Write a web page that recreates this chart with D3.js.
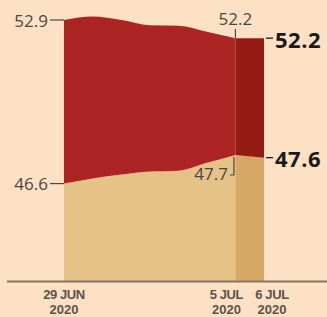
<!DOCTYPE html>
<html>
<head>
<meta charset="utf-8">
<script src="https://cdn.jsdelivr.net/npm/d3@7"></script>
<style>
  html, body { margin: 0; padding: 0; background: #fde1c4; }
  svg { display: block; }
</style>
</head>
<body>
<div id="chart"></div>
<script>
// ---- data ----
const dates = ["2020-06-29", "2020-06-30", "2020-07-01", "2020-07-02", "2020-07-03", "2020-07-04", "2020-07-05", "2020-07-06"];
const upperValues = [52.9, 53.03, 52.9, 52.7, 52.68, 52.45, 52.2, 52.2];
const lowerValues = [46.6, 46.8, 46.95, 47.07, 47.1, 47.4, 47.7, 47.6];
const tickDates = ["2020-06-29", "2020-07-05", "2020-07-06"];
const tickLines1 = ["29 JUN", "5 JUL", "6 JUL"];
const tickLines2 = ["2020", "2020", "2020"];
const yDomain = [42.85, 52.9];

// ---- layout ----
const W = 327, H = 317;
const parse = d3.timeParse("%Y-%m-%d");
const rows = dates.map((d, i) => ({ date: parse(d), up: upperValues[i], lo: lowerValues[i] }));

const svg = d3.select("#chart").append("svg").attr("width", W).attr("height", H);
svg.append("rect").attr("width", W).attr("height", H).attr("fill", "#fde1c4");

const x = d3.scaleTime().domain(d3.extent(rows, d => d.date)).range([64, 264]);
const y = d3.scaleLinear().domain(yDomain).range([281, 20]);

const n = rows.length;
const mainRows = rows.slice(0, n - 1);
const lastRows = rows.slice(n - 2);

const upperArea = d3.area().x(d => x(d.date)).y0(d => y(d.lo)).y1(d => y(d.up)).curve(d3.curveMonotoneX);
const lowerArea = d3.area().x(d => x(d.date)).y0(() => y(yDomain[0])).y1(d => y(d.lo)).curve(d3.curveMonotoneX);
const upperLin = d3.area().x(d => x(d.date)).y0(d => y(d.lo)).y1(d => y(d.up));
const lowerLin = d3.area().x(d => x(d.date)).y0(() => y(yDomain[0])).y1(d => y(d.lo));

svg.append("path").datum(mainRows).attr("d", lowerArea).attr("fill", "#e5c288");
svg.append("path").datum(mainRows).attr("d", upperArea).attr("fill", "#ad2424");
svg.append("path").datum(lastRows).attr("d", lowerLin).attr("fill", "#d7a765");
svg.append("path").datum(lastRows).attr("d", upperLin).attr("fill", "#961a14");

// ---- axis ----
svg.append("line").attr("x1", 7).attr("x2", W).attr("y1", 281.5).attr("y2", 281.5)
  .attr("stroke", "#857563").attr("stroke-width", 2);

const labelShift = [0, -9, 8];
const tg = svg.append("g").attr("font-family", "'Liberation Sans', Arial, sans-serif")
  .attr("font-weight", "bold").attr("font-size", 13).attr("fill", "#5d534a").attr("text-anchor", "middle");
tickDates.forEach((d, i) => {
  const cx = x(parse(d)) + labelShift[i];
  tg.append("text").attr("x", cx).attr("y", 299).attr("letter-spacing", -0.4).text(tickLines1[i]);
  tg.append("text").attr("x", cx).attr("y", 314).text(tickLines2[i]);
});

// ---- value labels ----
const first = rows[0], fifth = rows[n - 2], last = rows[n - 1];
const lab = svg.append("g").attr("font-family", "'Open Sans', sans-serif").attr("font-size", 17).attr("fill", "#4a4642");
const stroke = "#4a4642";

// left labels
[first.up, first.lo].forEach(v => {
  const yy = y(v);
  svg.append("line").attr("x1", 50).attr("x2", x(first.date)).attr("y1", yy).attr("y2", yy)
    .attr("stroke", stroke).attr("stroke-width", 1.2);
  lab.append("text").attr("x", 48).attr("y", yy + 6.5).attr("text-anchor", "end").text(d3.format(".1f")(v));
});

// 5 JUL top label
const x5 = x(fifth.date);
svg.append("line").attr("x1", x5).attr("x2", x5).attr("y1", 29).attr("y2", y(fifth.up))
  .attr("stroke", stroke).attr("stroke-width", 1.2);
lab.append("text").attr("x", x5).attr("y", 25).attr("text-anchor", "middle").text(d3.format(".1f")(fifth.up));

// 5 JUL lower label with leader
const lx = x5 - 1.5;
svg.append("path").attr("d", `M${lx - 4},175 H${lx} V${y(fifth.lo) + 2}`)
  .attr("fill", "none").attr("stroke", stroke).attr("stroke-width", 1.2);
lab.append("text").attr("x", lx - 6).attr("y", 179.5).attr("text-anchor", "end").text(d3.format(".1f")(fifth.lo));

// right bold labels
const xr = x(last.date);
[last.up, last.lo].forEach(v => {
  const yy = y(v);
  svg.append("line").attr("x1", xr + 2).attr("x2", xr + 9).attr("y1", yy).attr("y2", yy)
    .attr("stroke", "#1a1a1a").attr("stroke-width", 1.3);
  svg.append("text").attr("x", xr + 11).attr("y", yy + 9.5)
    .attr("font-family", "'Open Sans', sans-serif").attr("font-weight", "bold").attr("font-size", 22)
    .attr("fill", "#1a1a1a").attr("letter-spacing", 0.5).text(d3.format(".1f")(v));
});
</script>
</body>
</html>
